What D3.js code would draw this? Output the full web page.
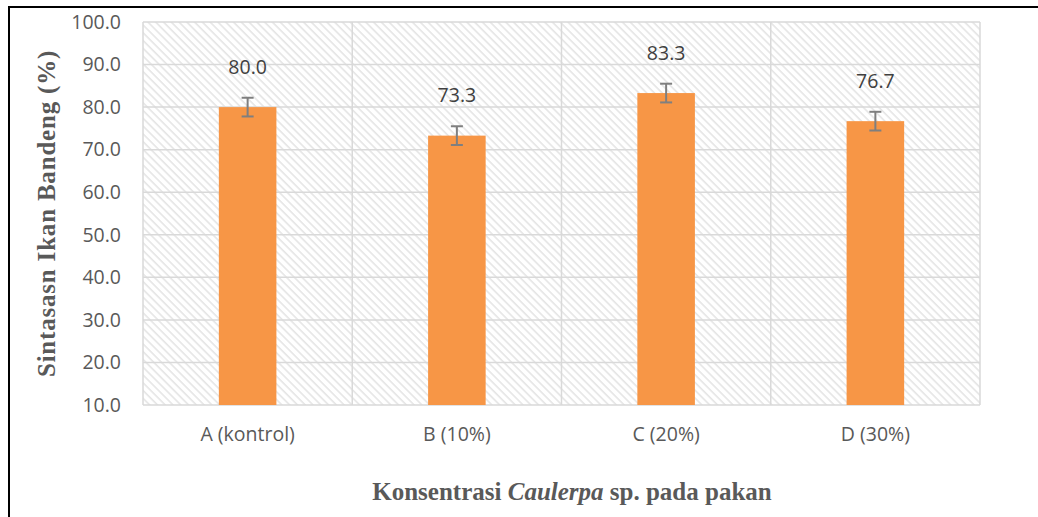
<!DOCTYPE html>
<html>
<head>
<meta charset="utf-8">
<script src="https://cdn.jsdelivr.net/npm/d3@7"></script>
<style>
  body { margin: 0; background: #fff; }
  svg { display: block; }
</style>
</head>
<body>
<script>
// data
var categories = ["A (kontrol)", "B (10%)", "C (20%)", "D (30%)"];
var values = [80.0, 73.3, 83.3, 76.7];
var errors = [2.2, 2.2, 2.2, 2.2];
var yTicks = [10, 20, 30, 40, 50, 60, 70, 80, 90, 100];

var width = 1038, height = 517;
var plot = {left: 143, top: 22, right: 980, bottom: 405};

var svg = d3.select("body").append("svg")
    .attr("width", width)
    .attr("height", height);

// hatch fill for plot background
var defs = svg.append("defs");
defs.append("pattern")
    .attr("id", "hatch")
    .attr("patternUnits", "userSpaceOnUse")
    .attr("width", 5.5)
    .attr("height", 5.5)
    .attr("patternTransform", "rotate(-45)")
  .append("line")
    .attr("x1", 1).attr("y1", 0)
    .attr("x2", 1).attr("y2", 5.5)
    .attr("stroke", "#dcdcdc")
    .attr("stroke-width", 1.2);

// outer frame (left + top visible)
svg.append("path")
    .attr("d", "M9,517 V7 H1038")
    .attr("fill", "none")
    .attr("stroke", "#000")
    .attr("stroke-width", 2);

var x = d3.scaleBand()
    .domain(categories)
    .range([plot.left, plot.right])
    .paddingInner(0)
    .paddingOuter(0);

var y = d3.scaleLinear()
    .domain([10, 100])
    .range([plot.bottom, plot.top]);

svg.append("rect")
    .attr("x", plot.left)
    .attr("y", plot.top)
    .attr("width", plot.right - plot.left)
    .attr("height", plot.bottom - plot.top)
    .attr("fill", "url(#hatch)");

// horizontal grid
svg.append("g").selectAll("line.h").data(yTicks).enter().append("line")
    .attr("x1", plot.left).attr("x2", plot.right)
    .attr("y1", function(d) { return y(d); })
    .attr("y2", function(d) { return y(d); })
    .attr("stroke", "#d9d9d9")
    .attr("stroke-width", 1.5);

// vertical grid at category boundaries
var bounds = categories.map(function(c) { return x(c); }).concat([plot.right]);
svg.append("g").selectAll("line.v").data(bounds).enter().append("line")
    .attr("x1", function(d) { return d; })
    .attr("x2", function(d) { return d; })
    .attr("y1", plot.top).attr("y2", plot.bottom)
    .attr("stroke", "#d9d9d9")
    .attr("stroke-width", 1.5);

// y axis labels
var yAxis = d3.axisLeft(y).tickValues(yTicks).tickSize(0).tickPadding(22)
    .tickFormat(d3.format(".1f"));
var gy = svg.append("g")
    .attr("transform", "translate(" + plot.left + ",0)")
    .call(yAxis);
gy.select(".domain").remove();
gy.selectAll("text")
    .attr("fill", "#595959")
    .style("font-family", "'Open Sans', sans-serif")
    .style("font-size", "19.5px");

// x axis labels
var xAxis = d3.axisBottom(x).tickSize(0).tickPadding(22);
var gx = svg.append("g")
    .attr("transform", "translate(0," + plot.bottom + ")")
    .call(xAxis);
gx.select(".domain").remove();
gx.selectAll("text")
    .attr("fill", "#595959")
    .style("font-family", "'Open Sans', sans-serif")
    .style("font-size", "19.5px");

// bars
var barW = x.bandwidth() * 0.275;
svg.append("g").selectAll("rect").data(values).enter().append("rect")
    .attr("x", function(d, i) { return x(categories[i]) + x.bandwidth() / 2 - barW / 2; })
    .attr("y", function(d) { return y(d); })
    .attr("width", barW)
    .attr("height", function(d) { return y(10) - y(d); })
    .attr("fill", "#f79646");

// error bars
var eb = svg.append("g").attr("stroke", "#7f7f7f").attr("stroke-width", 2);
values.forEach(function(v, i) {
  var cx = x(categories[i]) + x.bandwidth() / 2;
  eb.append("line").attr("x1", cx).attr("x2", cx)
      .attr("y1", y(v + errors[i])).attr("y2", y(v - errors[i]));
  eb.append("line").attr("x1", cx - 6).attr("x2", cx + 6)
      .attr("y1", y(v + errors[i])).attr("y2", y(v + errors[i]));
  eb.append("line").attr("x1", cx - 6).attr("x2", cx + 6)
      .attr("y1", y(v - errors[i])).attr("y2", y(v - errors[i]));
});

// value labels
svg.append("g").selectAll("text").data(values).enter().append("text")
    .attr("x", function(d, i) { return x(categories[i]) + x.bandwidth() / 2; })
    .attr("y", function(d) { return y(d) - 40; })
    .attr("dy", "0.35em")
    .attr("text-anchor", "middle")
    .attr("fill", "#404040")
    .style("font-family", "'Open Sans', sans-serif")
    .style("font-size", "19.5px")
    .text(function(d) { return d3.format(".1f")(d); });

// axis titles
svg.append("text")
    .attr("transform", "translate(46," + ((plot.top + plot.bottom) / 2) + ") rotate(-90)")
    .attr("text-anchor", "middle")
    .attr("dy", "0.35em")
    .attr("fill", "#595959")
    .style("font-family", "'Liberation Serif', serif")
    .style("font-weight", "bold")
    .style("font-size", "25px")
    .style("letter-spacing", "0.8px")
    .text("Sintasasn Ikan Bandeng (%)");

var xt = svg.append("text")
    .attr("x", 572)
    .attr("y", 491)
    .attr("dy", "0.35em")
    .attr("text-anchor", "middle")
    .attr("fill", "#595959")
    .style("font-family", "'Liberation Serif', serif")
    .style("font-weight", "bold")
    .style("font-size", "25px");
xt.append("tspan").text("Konsentrasi ");
xt.append("tspan").style("font-style", "italic").text("Caulerpa");
xt.append("tspan").text(" sp. pada pakan");
</script>
</body>
</html>
